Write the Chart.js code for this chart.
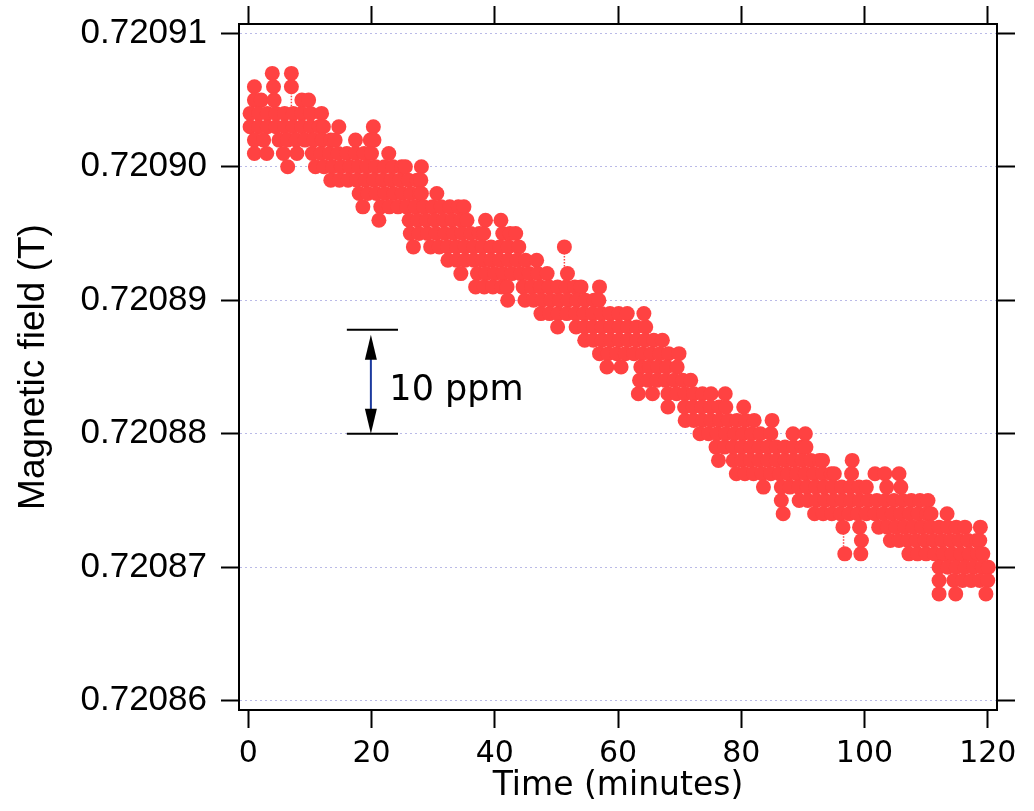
<!DOCTYPE html>
<html>
<head>
<meta charset="utf-8">
<script src="https://cdn.jsdelivr.net/npm/chart.js@4/dist/chart.umd.min.js"></script>
<style>
  html, body { margin: 0; padding: 0; background: #fff; }
  #wrap { width: 1034px; height: 811px; }
</style>
</head>
<body>
<div id="wrap"><canvas id="fieldChart"></canvas></div>
<script>
// axis ticks
const xTicks = [0, 20, 40, 60, 80, 100, 120];
const yTicks = [0.72086, 0.72087, 0.72088, 0.72089, 0.72090, 0.72091];

// field levels (T), the probe reads in steps of 1e-6 T
const fieldLevels = [
  0.720907, 0.720906, 0.720905, 0.720904, 0.720903, 0.720902, 0.720901, 0.720900,
  0.720899, 0.720898, 0.720897, 0.720896, 0.720895, 0.720894, 0.720893, 0.720892,
  0.720891, 0.720890, 0.720889, 0.720888, 0.720887, 0.720886, 0.720885, 0.720884,
  0.720883, 0.720882, 0.720881, 0.720880, 0.720879, 0.720878, 0.720877, 0.720876,
  0.720875, 0.720874, 0.720873, 0.720872, 0.720871, 0.720870, 0.720869, 0.720868
];

// sample times (minutes) read at each level, same order as fieldLevels
const sampleTimes = [
  [3.9, 7.0],
  [1.0, 4.1, 7.0],
  [1.0, 2.1, 4.2, 8.7, 9.8],
  [0.3, 1.7, 3.1, 4.5, 5.9, 7.3, 8.7, 10.1, 11.9],
  [0.3, 1.7, 3.1, 4.5, 5.9, 7.3, 8.7, 10.1, 11.5, 12.2, 14.7, 20.3],
  [1.0, 2.5, 5.0, 6.4, 7.8, 9.2, 10.6, 12.0, 13.4, 14.1, 17.4, 19.8, 20.4],
  [1.0, 3.0, 5.7, 7.9, 10.4, 11.8, 13.2, 14.6, 16.0, 17.4, 18.8, 20.0, 22.8],
  [6.4, 10.9, 12.3, 13.7, 15.1, 16.5, 17.9, 19.3, 20.7, 22.1, 23.5, 24.9, 25.5, 28.1],
  [13.4, 14.8, 16.2, 17.6, 19.0, 20.4, 21.8, 23.2, 24.6, 26.0, 27.4, 28.0],
  [18.0, 19.4, 20.8, 22.2, 23.6, 25.0, 26.4, 27.8, 28.1, 30.6],
  [18.6, 21.5, 22.9, 24.3, 25.7, 27.1, 28.5, 29.9, 31.3, 32.7, 34.1, 35.0],
  [21.2, 26.1, 27.5, 28.9, 30.3, 31.7, 33.1, 34.5, 35.5, 38.5, 41.0],
  [26.3, 27.7, 29.1, 30.5, 31.9, 33.3, 34.7, 36.1, 37.5, 38.2, 41.3, 42.5, 43.4],
  [26.8, 29.6, 31.0, 32.4, 33.8, 35.2, 36.6, 38.0, 39.4, 40.8, 42.2, 43.9, 51.3],
  [32.4, 33.8, 35.2, 36.6, 38.0, 39.4, 40.8, 42.2, 43.6, 45.0, 46.8],
  [34.5, 37.2, 38.6, 40.0, 41.4, 42.8, 44.2, 45.6, 47.0, 48.5, 51.8],
  [36.9, 38.3, 39.7, 41.1, 42.0, 44.6, 46.0, 47.4, 48.8, 50.2, 51.6, 53.0, 54.0, 57.0],
  [42.1, 44.9, 46.3, 47.7, 49.1, 50.5, 51.9, 53.3, 54.7, 56.1, 56.9],
  [47.5, 48.9, 50.3, 51.7, 53.1, 54.5, 55.9, 57.3, 58.7, 60.1, 61.5, 64.2],
  [50.2, 53.2, 54.6, 56.0, 57.4, 58.8, 60.2, 61.6, 63.0, 64.5],
  [54.6, 56.0, 57.4, 58.8, 60.2, 61.6, 63.0, 64.4, 65.8, 67.2],
  [57.0, 58.4, 59.8, 61.2, 62.6, 64.0, 65.4, 66.8, 68.2, 69.9],
  [58.2, 60.5, 63.7, 65.1, 66.5, 67.9, 69.6],
  [63.5, 64.9, 66.3, 67.7, 69.1, 70.5, 71.8],
  [63.3, 65.6, 68.1, 69.5, 70.9, 72.3, 73.7, 75.1, 77.4],
  [68.1, 70.8, 72.2, 73.6, 75.0, 76.4, 77.5, 80.4],
  [70.9, 72.3, 73.7, 75.1, 76.5, 77.9, 79.3, 80.7, 82.1, 85.0],
  [73.3, 74.7, 76.1, 77.5, 78.9, 80.3, 81.7, 83.1, 84.8, 88.4, 90.4],
  [75.9, 77.3, 78.7, 80.1, 81.5, 82.9, 84.3, 85.7, 87.1, 88.5, 89.9, 90.5],
  [76.3, 78.7, 80.1, 81.5, 82.9, 84.3, 85.7, 87.1, 88.5, 89.9, 91.3, 92.7, 93.2, 98.0],
  [79.2, 80.6, 82.0, 83.4, 84.8, 86.2, 87.6, 89.0, 90.4, 91.8, 93.2, 94.6, 95.1, 97.9, 101.7, 103.3, 105.6],
  [83.6, 86.5, 87.9, 89.3, 90.7, 92.1, 93.5, 94.9, 96.3, 97.7, 99.1, 100.3, 103.6, 105.9],
  [86.5, 89.4, 90.8, 92.2, 93.6, 95.0, 96.4, 97.8, 99.2, 100.6, 102.0, 103.4, 104.8, 106.2, 107.6, 109.0, 110.3],
  [86.8, 91.9, 93.3, 94.7, 96.1, 97.5, 98.9, 100.3, 101.7, 103.1, 104.5, 105.9, 107.3, 108.7, 110.1, 110.8, 113.4],
  [96.5, 99.2, 102.3, 103.7, 105.1, 106.5, 107.9, 109.3, 110.7, 112.1, 113.5, 114.9, 116.3, 118.8],
  [99.5, 104.2, 105.6, 107.0, 108.4, 109.8, 111.2, 112.6, 114.0, 115.4, 116.8, 118.2, 118.7],
  [96.8, 99.4, 107.2, 108.6, 110.0, 111.4, 112.8, 114.2, 115.6, 117.0, 118.4, 119.2],
  [112.1, 113.5, 114.9, 116.3, 117.7, 119.1, 120.1],
  [112.1, 114.5, 115.9, 117.3, 118.7, 120.0],
  [112.1, 114.8, 119.7]
];

// jumps of two steps where the dotted trace shows: [time, from, to]
const jumps = [
  [7.0, 0.720906, 0.720904],
  [51.3, 0.720894, 0.720892],
  [96.6, 0.720873, 0.720871]
];

// 10 ppm scale bar, in data units
const ppmBarTimes = [16.0, 24.3];
const ppmArrowTime = 19.9;
const ppmLow = 0.72088;
const ppmHigh = 0.7208878;
const ppmTextTime = 22.9;
const ppmTextField = 0.7208825;

const points = [];
fieldLevels.forEach((b, i) => {
  sampleTimes[i].forEach(t => points.push({ x: t, y: b }));
});

const red = '#ff4242';

// スケールバー
const ppmBarPlugin = {
  id: 'ppm-bar',
  afterDatasetsDraw: function (chart) {
    const { ctx, scales: { x, y } } = chart;
    const xl = x.getPixelForValue(ppmBarTimes[0]);
    const xr = x.getPixelForValue(ppmBarTimes[1]);
    const xa = x.getPixelForValue(ppmArrowTime);
    const yTop = y.getPixelForValue(ppmHigh);
    const yBot = y.getPixelForValue(ppmLow);
    ctx.save();
    ctx.strokeStyle = '#000';
    ctx.lineWidth = 2;
    ctx.beginPath();
    ctx.moveTo(xl, yTop); ctx.lineTo(xr, yTop);
    ctx.moveTo(xl, yBot); ctx.lineTo(xr, yBot);
    ctx.stroke();

    ctx.strokeStyle = '#1c3a9e';
    ctx.beginPath();
    ctx.moveTo(xa, yTop + 20); ctx.lineTo(xa, yBot - 20);
    ctx.stroke();

    // arrow heads
    ctx.fillStyle = '#000';
    const head = (tipY, dir) => {
      ctx.beginPath();
      ctx.moveTo(xa, tipY);
      ctx.lineTo(xa - 6, tipY + dir * 25);
      ctx.lineTo(xa + 6, tipY + dir * 25);
      ctx.closePath();
      ctx.fill();
    };
    head(yTop + 5, 1);
    head(yBot, -1);

    ctx.font = '35px "DejaVu Sans"';
    ctx.textAlign = 'left';
    ctx.textBaseline = 'alphabetic';
    ctx.fillText('10 ppm', x.getPixelForValue(ppmTextTime), y.getPixelForValue(ppmTextField));
    ctx.restore();
  }
};

const setXTicks = s => { s.ticks = xTicks.map(v => ({ value: v })); };
const setYTicks = s => { s.ticks = yTicks.map(v => ({ value: v })); };
// fixed box sizes so the plot frame sits where the original has it
const fitX = h => s => { s.height = h; s.paddingLeft = 0; s.paddingRight = 0; };
const fitY = w => s => { s.width = w; s.paddingTop = 0; s.paddingBottom = 0; };
const tickGrid = { drawOnChartArea: false, tickLength: 18, tickColor: '#000', tickWidth: 2 };
const frame = { color: '#000', width: 2 };

new Chart(document.getElementById('fieldChart'), {
  type: 'scatter',
  data: {
    datasets: [
      {
        data: points,
        backgroundColor: red,
        borderWidth: 0,
        pointRadius: 7.5,
        pointHoverRadius: 7.5,
        order: 1,
      },
      ...jumps.map(j => ({
        data: [{ x: j[0], y: j[1] }, { x: j[0], y: j[2] }],
        showLine: true,
        borderColor: red,
        borderWidth: 1.5,
        borderDash: [1.5, 1.5],
        pointRadius: 0,
        order: 2,
      })),
    ],
  },
  options: {
    responsive: true,
    maintainAspectRatio: false,
    animation: false,
    layout: { padding: 0 },
    plugins: {
      legend: { display: false },
      tooltip: { enabled: false },
    },
    scales: {
      x: {
        type: 'linear',
        position: 'bottom',
        min: -1.5,
        max: 121.5,
        afterBuildTicks: setXTicks,
        afterFit: fitX(101),
        grid: tickGrid,
        border: frame,
        ticks: {
          color: '#000',
          font: { family: '"DejaVu Sans"', size: 30 },
          padding: 8,
          maxRotation: 0,
          autoSkip: false,
        },
        title: {
          display: true,
          text: 'Time (minutes)',
          color: '#000',
          font: { family: '"DejaVu Sans"', size: 33 },
          padding: { top: 0, bottom: 5 },
        },
      },
      x2: {
        type: 'linear',
        position: 'top',
        min: -1.5,
        max: 121.5,
        afterBuildTicks: setXTicks,
        afterFit: fitX(24),
        grid: tickGrid,
        border: frame,
        ticks: { display: false },
      },
      y: {
        type: 'linear',
        position: 'left',
        min: 0.7208593,
        max: 0.7209107,
        afterBuildTicks: setYTicks,
        afterFit: fitY(239),
        grid: {
          color: 'rgba(140, 140, 215, 0.6)',
          lineWidth: 1,
          tickLength: 18,
          tickColor: '#000',
          tickWidth: 2,
        },
        border: { color: '#000', width: 2, dash: [2, 3] },
        ticks: {
          color: '#000',
          font: { family: '"Liberation Sans"', size: 35 },
          padding: 14,
          callback: v => Number(v).toFixed(5),
        },
        title: {
          display: true,
          text: 'Magnetic field (T)',
          color: '#000',
          font: { family: '"Liberation Sans"', size: 37 },
          padding: { top: 12, bottom: 0 },
        },
      },
      y2: {
        type: 'linear',
        position: 'right',
        min: 0.7208593,
        max: 0.7209107,
        afterBuildTicks: setYTicks,
        afterFit: fitY(37),
        grid: tickGrid,
        border: frame,
        ticks: { display: false },
      },
    },
  },
  plugins: [ppmBarPlugin],
});
</script>
</body>
</html>
